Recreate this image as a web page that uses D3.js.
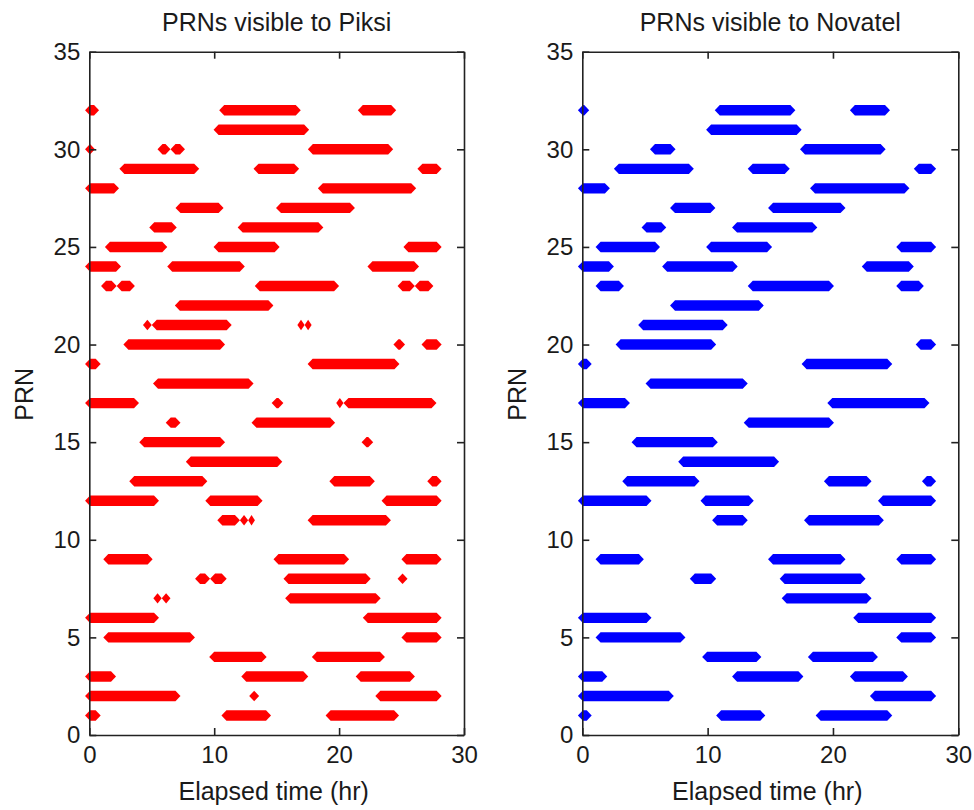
<!DOCTYPE html>
<html>
<head>
<meta charset="utf-8">
<script src="https://cdn.jsdelivr.net/npm/d3@7"></script>
<style>
  html, body { margin: 0; padding: 0; background: #fff; }
  svg { display: block; }
  text { font-family: "Liberation Sans", Arial, sans-serif; fill: #1a1a1a; }
</style>
</head>
<body>
<svg id="chart" width="974" height="810"></svg>
<script>
// ---- data: [PRN, start hour, end hour] ----
const piksiSegments = [
  [32, -0.34, 0.78], [32, 10.4, 16.93], [32, 21.5, 24.57],
  [31, 9.95, 17.6],
  [30, -0.34, 0.45], [30, 5.46, 6.5], [30, 6.5, 7.66], [30, 17.5, 24.33],
  [29, 2.41, 8.8], [29, 13.15, 16.8], [29, 26.27, 28.21],
  [28, -0.34, 2.38], [28, 18.3, 26.17],
  [27, 6.9, 10.75], [27, 14.95, 21.27],
  [26, 4.8, 7.0], [26, 11.88, 18.74],
  [25, 1.25, 6.24], [25, 9.95, 15.24], [25, 25.15, 28.21],
  [24, -0.34, 2.54], [24, 6.24, 12.45], [24, 22.27, 26.4],
  [23, 0.94, 2.19], [23, 2.19, 3.65], [23, 13.25, 20.0], [23, 24.68, 26.06], [23, 26.06, 27.55],
  [22, 6.85, 14.74],
  [21, 4.3, 5.0], [21, 5.0, 11.4], [21, 16.66, 17.24], [21, 17.24, 17.8],
  [20, 2.73, 10.87], [20, 24.35, 25.28], [20, 26.6, 28.21],
  [19, -0.34, 0.91], [19, 17.48, 24.83],
  [18, 5.1, 13.15],
  [17, -0.34, 3.98], [17, 14.6, 15.54], [17, 19.77, 20.35], [17, 20.35, 27.8],
  [16, 6.12, 7.3], [16, 12.99, 19.68],
  [15, 4.0, 10.87], [15, 21.8, 22.73],
  [14, 7.73, 15.45],
  [13, 3.2, 9.45], [13, 19.22, 22.86], [13, 27.06, 28.21],
  [12, -0.34, 5.58], [12, 9.29, 13.87], [12, 23.4, 28.21],
  [11, 10.25, 12.06], [11, 12.06, 12.72], [11, 12.72, 13.26], [11, 17.48, 24.15],
  [9, 1.12, 5.07], [9, 14.75, 20.8], [9, 24.99, 28.21],
  [8, 8.47, 9.67], [8, 9.67, 11.0], [8, 15.55, 22.53], [8, 24.68, 25.48],
  [7, 5.13, 5.8], [7, 5.8, 6.5], [7, 15.68, 23.33],
  [6, -0.34, 5.58], [6, 21.9, 28.21],
  [5, 1.12, 8.46], [5, 24.99, 28.21],
  [4, 9.6, 14.2], [4, 17.82, 23.67],
  [3, -0.34, 2.14], [3, 12.17, 17.53], [3, 21.33, 26.07],
  [2, -0.34, 7.3], [2, 12.8, 13.6], [2, 22.9, 28.21],
  [1, -0.34, 0.91], [1, 10.58, 14.55], [1, 18.92, 24.8]
];

const novatelSegments = [
  [32, -0.35, 0.55], [32, 10.57, 17.0], [32, 21.35, 24.55],
  [31, 9.88, 17.5],
  [30, 5.4, 7.44], [30, 17.37, 24.2],
  [29, 2.52, 8.9], [29, 13.2, 16.55], [29, 26.45, 28.23],
  [28, -0.35, 2.2], [28, 18.17, 26.1],
  [27, 7.0, 10.62], [27, 14.82, 21.0],
  [26, 4.73, 6.7], [26, 11.95, 18.75],
  [25, 1.06, 6.2], [25, 9.88, 15.14], [25, 25.05, 28.23],
  [24, -0.35, 2.52], [24, 6.37, 12.4], [24, 22.3, 26.45],
  [23, 1.06, 3.32], [23, 13.2, 20.08], [23, 25.05, 27.25],
  [22, 7.0, 14.48],
  [21, 4.46, 11.6],
  [20, 2.66, 10.68], [20, 26.6, 28.23],
  [19, -0.35, 0.75], [19, 17.5, 24.73],
  [18, 5.05, 13.2],
  [17, -0.35, 3.8], [17, 19.55, 27.7],
  [16, 12.88, 20.08],
  [15, 3.93, 10.81],
  [14, 7.65, 15.7],
  [13, 3.19, 9.35], [13, 19.28, 23.08], [13, 27.1, 28.23],
  [12, -0.35, 5.52], [12, 9.43, 13.68], [12, 23.59, 28.23],
  [11, 10.36, 13.2], [11, 17.69, 24.06],
  [9, 1.06, 4.91], [9, 14.82, 21.0], [9, 25.05, 28.23],
  [8, 8.58, 10.68], [8, 15.75, 22.6],
  [7, 15.91, 23.08],
  [6, -0.35, 5.52], [6, 21.62, 28.23],
  [5, 1.06, 8.23], [5, 25.05, 28.23],
  [4, 9.56, 14.29], [4, 18.0, 23.59],
  [3, -0.35, 1.99], [3, 11.95, 17.64], [3, 21.35, 25.98],
  [2, -0.35, 7.3], [2, 22.95, 28.23],
  [1, -0.35, 0.75], [1, 10.68, 14.6], [1, 18.62, 24.73]
];

const xTicks = [0, 10, 20, 30];
const yTicks = [0, 5, 10, 15, 20, 25, 30, 35];
const xDomain = [0, 30];
const yDomain = [0, 35];
const titles = ["PRNs visible to Piksi", "PRNs visible to Novatel"];
const xLabel = "Elapsed time (hr)";
const yLabel = "PRN";
const colors = ["#ff0000", "#0000ff"];

// ---- layout ----
const svg = d3.select("#chart");
svg.append("rect").attr("width", 974).attr("height", 810).attr("fill", "#fff");

const plotTop = 51.7, plotBottom = 735;
const panels = [
  { left: 89.3, right: 464, data: piksiSegments, color: colors[0], title: titles[0] },
  { left: 582.3, right: 958.3, data: novatelSegments, color: colors[1], title: titles[1] }
];

panels.forEach(p => {
  const x = d3.scaleLinear().domain(xDomain).range([p.left, p.right]);
  const y = d3.scaleLinear().domain(yDomain).range([plotBottom, plotTop]);
  const g = svg.append("g");

  // bars: runs of diamond markers -> flat bar with pointed ends
  g.append("g").selectAll("path").data(p.data).join("path")
    .attr("fill", p.color)
    .attr("d", d => {
      const xs = x(d[1]), xe = x(d[2]), yc = y(d[0]);
      const r = Math.min(5, (xe - xs) / 2), h = 5.2;
      return `M${xs},${yc}L${xs + r},${yc - h}L${xe - r},${yc - h}L${xe},${yc}L${xe - r},${yc + h}L${xs + r},${yc + h}Z`;
    });

  const axStyle = sel => {
    sel.selectAll("path.domain").attr("stroke", "#222").attr("stroke-width", 1.6).attr("fill", "none");
    sel.selectAll(".tick line").attr("stroke", "#222").attr("stroke-width", 1.6);
    sel.selectAll("text").attr("font-family", '"Liberation Sans", Arial, sans-serif')
      .attr("font-size", 24).attr("fill", "#1a1a1a");
  };

  g.append("g").attr("transform", `translate(0,${plotBottom})`)
    .call(d3.axisBottom(x).tickValues(xTicks).tickSizeInner(-7).tickSizeOuter(0).tickPadding(11).tickFormat(d3.format("d")))
    .call(axStyle);
  g.append("g").attr("transform", `translate(0,${plotTop})`)
    .call(d3.axisTop(x).tickValues(xTicks).tickSizeInner(-7).tickSizeOuter(0).tickFormat(""))
    .call(axStyle);
  g.append("g").attr("transform", `translate(${p.left},0)`)
    .call(d3.axisLeft(y).tickValues(yTicks).tickSizeInner(-7).tickSizeOuter(0).tickPadding(9).tickFormat(d3.format("d")))
    .call(axStyle);
  g.append("g").attr("transform", `translate(${p.right},0)`)
    .call(d3.axisRight(y).tickValues(yTicks).tickSizeInner(-7).tickSizeOuter(0).tickFormat(""))
    .call(axStyle);

  const cx = (p.left + p.right) / 2;
  g.append("text").attr("x", cx).attr("y", 31).attr("text-anchor", "middle")
    .attr("font-size", 25).text(p.title);
  g.append("text").attr("x", cx - 3).attr("y", 800).attr("text-anchor", "middle")
    .attr("font-size", 25).text(xLabel);
  g.append("text").attr("transform", `translate(${p.left - 56},${(plotTop + plotBottom) / 2 + 1}) rotate(-90)`)
    .attr("text-anchor", "middle").attr("font-size", 25).text(yLabel);
});
</script>
</body>
</html>
